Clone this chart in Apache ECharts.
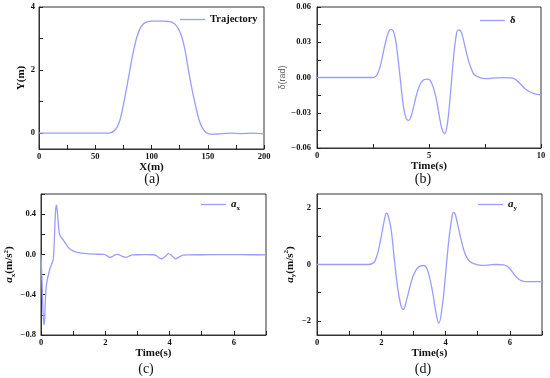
<!DOCTYPE html>
<html>
<head>
<meta charset="utf-8">
<script src="https://cdn.jsdelivr.net/npm/echarts@6/dist/echarts.min.js"></script>
<style>
html,body{margin:0;padding:0;background:#fff;}
#c{width:550px;height:378px;}
</style>
</head>
<body>
<div id="c"></div>
<script>
// ---- Panel (a): trajectory ----
var trajX = [0, 50, 60, 63, 66, 69, 72, 75, 78, 81, 84, 87, 90, 93, 96, 100, 105, 110, 115, 118, 121, 124, 127, 130, 133, 136, 139, 142, 145, 148, 151, 155, 160, 170, 180, 190, 200];
var trajY = [0, 0, 0, 0.01, 0.05, 0.17, 0.42, 0.9, 1.45, 2.05, 2.6, 3.05, 3.33, 3.47, 3.53, 3.55, 3.55, 3.55, 3.54, 3.52, 3.45, 3.3, 3.05, 2.6, 1.96, 1.4, 0.9, 0.45, 0.18, 0.04, -0.02, -0.03, -0.02, 0, -0.01, 0, -0.02];

// ---- Panel (b): steering angle delta ----
var deltaT = [0, 1, 2, 2.5, 2.6, 2.7, 2.8, 2.9, 3.0, 3.1, 3.2, 3.3, 3.4, 3.5, 3.6, 3.7, 3.8, 3.9, 4.0, 4.1, 4.2, 4.3, 4.4, 4.5, 4.6, 4.7, 4.8, 4.9, 5.0, 5.1, 5.2, 5.3, 5.4, 5.5, 5.6, 5.7, 5.8, 5.9, 6.0, 6.1, 6.2, 6.3, 6.4, 6.5, 6.6, 6.7, 6.8, 6.9, 7.0, 7.2, 7.4, 7.6, 7.8, 8.0, 8.3, 8.6, 8.8, 9.0, 9.2, 9.4, 9.6, 9.8, 10];
var deltaV = [0, 0, 0, 0, 0.0006, 0.003, 0.008, 0.016, 0.025, 0.033, 0.039, 0.041, 0.0395, 0.033, 0.019, 0.002, -0.016, -0.029, -0.0355, -0.0365, -0.033, -0.026, -0.018, -0.011, -0.006, -0.003, -0.0017, -0.0013, -0.0015, -0.004, -0.009, -0.016, -0.026, -0.037, -0.045, -0.0478, -0.042, -0.026, -0.004, 0.018, 0.034, 0.0405, 0.040, 0.035, 0.027, 0.019, 0.012, 0.007, 0.003, 0.0005, -0.0008, -0.001, -0.0006, -0.0003, -0.0001, -0.0003, -0.001, -0.004, -0.008, -0.011, -0.013, -0.0143, -0.0145];

// ---- Panel (c): longitudinal acceleration a_x ----
var axT = [0, 0.03, 0.06, 0.09, 0.11, 0.13, 0.16, 0.19, 0.24, 0.29, 0.34, 0.38, 0.41, 0.44, 0.47, 0.49, 0.52, 0.55, 0.58, 0.62, 0.7, 0.8, 0.9, 1.0, 1.1, 1.25, 1.5, 1.75, 1.95, 2.05, 2.13, 2.22, 2.3, 2.38, 2.46, 2.55, 2.64, 2.73, 2.85, 3.0, 3.3, 3.5, 3.6, 3.68, 3.76, 3.85, 3.97, 4.08, 4.19, 4.3, 4.42, 4.6, 5.0, 5.5, 6.0, 6.5, 7.0];
var axV = [0, -0.25, -0.55, -0.70, -0.66, -0.50, -0.33, -0.26, -0.19, -0.13, -0.09, -0.05, 0.10, 0.35, 0.49, 0.48, 0.38, 0.26, 0.20, 0.175, 0.14, 0.09, 0.055, 0.035, 0.022, 0.012, 0.005, 0.002, 0, -0.012, -0.03, -0.022, -0.005, 0, -0.008, -0.022, -0.03, -0.018, -0.005, -0.003, -0.002, -0.003, -0.015, -0.035, -0.043, -0.025, 0.007, -0.015, -0.043, -0.025, -0.007, -0.004, -0.003, -0.002, -0.002, -0.003, -0.004];

// ---- Panel (d): lateral acceleration a_y ----
var ayT = [0, 1, 1.6, 1.7, 1.8, 1.9, 2.0, 2.1, 2.16, 2.2, 2.3, 2.4, 2.5, 2.6, 2.68, 2.8, 2.9, 3.0, 3.1, 3.2, 3.3, 3.4, 3.5, 3.6, 3.7, 3.79, 3.9, 4.0, 4.1, 4.2, 4.25, 4.3, 4.4, 4.5, 4.6, 4.7, 4.8, 4.9, 5.0, 5.2, 5.4, 5.6, 5.8, 5.9, 6.0, 6.1, 6.2, 6.3, 6.4, 6.6, 7.0];
var ayV = [0, 0, 0, 0.02, 0.12, 0.45, 1.0, 1.6, 1.82, 1.78, 1.3, 0.25, -0.75, -1.4, -1.6, -1.2, -0.75, -0.38, -0.16, -0.06, -0.035, -0.1, -0.45, -1.0, -1.7, -2.09, -1.45, -0.35, 0.85, 1.7, 1.85, 1.78, 1.3, 0.8, 0.4, 0.18, 0.07, 0.02, -0.01, -0.03, -0.01, 0, -0.01, -0.05, -0.15, -0.3, -0.44, -0.54, -0.59, -0.61, -0.61];

// ---- tick values ----
var xTicksA = [0, 25, 50, 75, 100, 125, 150, 175, 200], xLabelsA = [0, 50, 100, 150, 200];
var yTicksA = [0, 1, 2, 3, 4], yLabelsA = [0, 2, 4];
var xTicksB = [0, 2.5, 5, 7.5, 10], xLabelsB = [0, 5, 10];
var yTicksB = [-0.06, -0.045, -0.03, -0.015, 0, 0.015, 0.03, 0.045, 0.06], yLabelsB = [-0.06, -0.03, 0, 0.03, 0.06];
var xTicksCD = [0, 1, 2, 3, 4, 5, 6, 7], xLabelsCD = [0, 2, 4, 6];
var yTicksC = [-0.8, -0.6, -0.4, -0.2, 0, 0.2, 0.4, 0.6], yLabelsC = [-0.8, -0.4, 0, 0.4];
var yTicksD = [-2, -1, 0, 1, 2], yLabelsD = [-2, 0, 2];

function zip(a, b) { return a.map(function (v, i) { return [v, b[i]]; }); }

var LINE = '#9a9cff';
var FRAME = '#333';
var SERIF = '"Liberation Serif","Times New Roman",serif';

var tickLabel = { fontFamily: SERIF, fontWeight: 'bold', fontSize: 8.5, color: '#111' };
var nameStyle = { fontFamily: SERIF, fontWeight: 'bold', fontSize: 11, color: '#111' };

function fmtB(v) {
  if (Math.abs(v) < 1e-9) return '0.00';
  return (v < 0 ? '\u2212' : '') + Math.abs(v).toFixed(2);
}
function fmtC(v) {
  if (Math.abs(v) < 1e-9) return '0.0';
  return (v < 0 ? '\u2212' : '') + Math.abs(v).toFixed(1);
}
function fmtInt(v) {
  return (v < 0 ? '\u2212' : '') + Math.abs(Math.round(v));
}

function xAxis(gi, min, max, ticks, labels, name, gap, margin) {
  return {
    type: 'value', gridIndex: gi, min: min, max: max,
    axisLine: { show: true, onZero: false, lineStyle: { color: FRAME, width: 1 } },
    splitLine: { show: false },
    axisTick: { show: true, inside: true, length: 4, customValues: ticks, lineStyle: { color: '#222', width: 1 } },
    axisLabel: Object.assign({ customValues: labels, margin: margin, formatter: function (v) { return fmtInt(v); } }, tickLabel),
    name: name, nameLocation: 'middle', nameGap: gap,
    nameTextStyle: nameStyle
  };
}

function yAxis(gi, min, max, ticks, labels, fmt, name, gap, margin, nts) {
  return {
    type: 'value', gridIndex: gi, min: min, max: max,
    axisLine: { show: true, onZero: false, lineStyle: { color: FRAME, width: 1 } },
    splitLine: { show: false },
    axisTick: { show: true, inside: true, length: 4, customValues: ticks, lineStyle: { color: '#222', width: 1 } },
    axisLabel: Object.assign({ customValues: labels, margin: margin, formatter: fmt }, tickLabel),
    name: name, nameLocation: 'middle', nameGap: gap, nameRotate: 90,
    nameTextStyle: nts || nameStyle
  };
}

var richAccel = {
  a: { fontFamily: SERIF, fontWeight: 'bold', fontStyle: 'italic', fontSize: 11, color: '#111', lineHeight: 14 },
  s: { fontFamily: SERIF, fontWeight: 'bold', fontSize: 7, color: '#111', lineHeight: 7, verticalAlign: 'bottom' },
  n: { fontFamily: SERIF, fontWeight: 'bold', fontSize: 11, color: '#111', lineHeight: 14 },
  p: { fontFamily: SERIF, fontWeight: 'bold', fontSize: 7, color: '#111', lineHeight: 7, verticalAlign: 'top' }
};

function legend(series, left, top, fmt, rich) {
  return {
    data: [series], left: left, top: top, padding: 0,
    icon: 'rect', itemWidth: 25, itemHeight: 1.3, itemGap: 4,
    formatter: fmt,
    textStyle: { fontFamily: SERIF, fontWeight: 'bold', fontSize: 10.5, color: '#111', rich: rich || {} }
  };
}

var option = {
  animation: false,
  backgroundColor: '#fff',
  grid: [
    { left: 39, top: 7, width: 225, height: 142, show: true, borderColor: FRAME, borderWidth: 1, backgroundColor: 'transparent' },
    { left: 317, top: 7, width: 224, height: 141, show: true, borderColor: FRAME, borderWidth: 1, backgroundColor: 'transparent' },
    { left: 41, top: 194, width: 225, height: 141, show: true, borderColor: FRAME, borderWidth: 1, backgroundColor: 'transparent' },
    { left: 317, top: 194, width: 225, height: 141, show: true, borderColor: FRAME, borderWidth: 1, backgroundColor: 'transparent' }
  ],
  xAxis: [
    xAxis(0, 0, 200, xTicksA, xLabelsA, 'X(m)', 9, 3),
    xAxis(1, 0, 10, xTicksB, xLabelsB, 'Time(s)', 9, 3),
    xAxis(2, 0, 7, xTicksCD, xLabelsCD, 'Time(s)', 9, 3),
    xAxis(3, 0, 7, xTicksCD, xLabelsCD, 'Time(s)', 9, 3)
  ],
  yAxis: [
    yAxis(0, -0.5, 4, yTicksA, yLabelsA, function (v) { return fmtInt(v); }, 'Y(m)', 12, 4),
    yAxis(1, -0.06, 0.06, yTicksB, yLabelsB, fmtB, '\u03b4(rad)', 30, 6,
      { fontFamily: '"Liberation Sans",Arial,sans-serif', fontSize: 9, color: '#666' }),
    yAxis(2, -0.8, 0.6, yTicksC, yLabelsC, fmtC, '{a|a}{s|x}{n|(m/s}{p|2}{n|)}', 24, 5,
      { rich: richAccel }),
    yAxis(3, -2.5, 2.5, yTicksD, yLabelsD, function (v) { return fmtInt(v); }, '{a|a}{s|y}{n|(m/s}{p|2}{n|)}', 20, 6,
      { rich: richAccel })
  ],
  legend: [
    legend('Trajectory', 180, 14),
    legend('\u03b4', 480, 15, null, null),
    legend('ax', 201, 199, function () { return '{a|a}{s|x}'; }, richAccel),
    legend('ay', 478, 199, function () { return '{a|a}{s|y}'; }, richAccel)
  ],
  series: [
    { name: 'Trajectory', type: 'line', xAxisIndex: 0, yAxisIndex: 0, data: zip(trajX, trajY), symbol: 'none', smooth: 0.35, lineStyle: { color: LINE, width: 1.3 }, itemStyle: { color: LINE } },
    { name: '\u03b4', type: 'line', xAxisIndex: 1, yAxisIndex: 1, data: zip(deltaT, deltaV), symbol: 'none', smooth: 0.4, lineStyle: { color: LINE, width: 1.3 }, itemStyle: { color: LINE } },
    { name: 'ax', type: 'line', xAxisIndex: 2, yAxisIndex: 2, data: zip(axT, axV), symbol: 'none', smooth: 0.3, lineStyle: { color: LINE, width: 1.3 }, itemStyle: { color: LINE } },
    { name: 'ay', type: 'line', xAxisIndex: 3, yAxisIndex: 3, data: zip(ayT, ayV), symbol: 'none', smooth: 0.4, lineStyle: { color: LINE, width: 1.3 }, itemStyle: { color: LINE } }
  ],
  graphic: [
    { type: 'text', x: 152, y: 179, style: { text: '(a)', align: 'center', verticalAlign: 'middle', font: '14px "Liberation Serif",serif', fill: '#111' } },
    { type: 'text', x: 423, y: 179, style: { text: '(b)', align: 'center', verticalAlign: 'middle', font: '14px "Liberation Serif",serif', fill: '#111' } },
    { type: 'text', x: 146, y: 369, style: { text: '(c)', align: 'center', verticalAlign: 'middle', font: '14px "Liberation Serif",serif', fill: '#111' } },
    { type: 'text', x: 423, y: 369, style: { text: '(d)', align: 'center', verticalAlign: 'middle', font: '14px "Liberation Serif",serif', fill: '#111' } }
  ]
};

var chart = echarts.init(document.getElementById('c'), null, { renderer: 'canvas' });
chart.setOption(option);
</script>
</body>
</html>
